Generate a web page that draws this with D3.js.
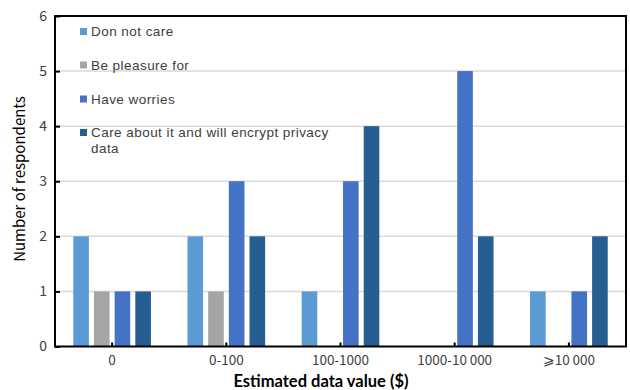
<!DOCTYPE html>
<html>
<head>
<meta charset="utf-8">
<script src="https://cdn.jsdelivr.net/npm/d3@7"></script>
<style>
  html, body { margin: 0; padding: 0; background: #fff; }
  svg { display: block; }
</style>
</head>
<body>
<svg id="chart" width="630" height="390"></svg>
<script>
// Respondent counts per estimated data value band
const categories = ["0", "0-100", "100-1000", "1000-10\u2009000", "\u2a7e10\u2009000"];
const seriesNames = ["Don not care", "Be pleasure for", "Have worries", "Care about it and will encrypt privacy data"];
const dontCare   = [2, 2, 1, 0, 1];
const pleasure   = [1, 1, 0, 0, 0];
const worries    = [1, 3, 3, 5, 1];
const encrypt    = [1, 2, 4, 2, 2];
const yTicks = [0, 1, 2, 3, 4, 5, 6];
const colors = ["#5b9bd5", "#a5a5a5", "#4472c4", "#255e91"];

const seriesValues = [dontCare, pleasure, worries, encrypt];

const svg = d3.select("#chart");
const plotLeft = 55, plotRight = 626, plotTop = 16, plotBottom = 346.5;

const x0 = d3.scaleBand().domain(categories).range([plotLeft, plotRight])
  .paddingInner(0.32).paddingOuter(0.16);
const x1 = d3.scaleBand().domain(d3.range(seriesNames.length))
  .range([0, x0.bandwidth()]).paddingInner(0.245).paddingOuter(0);
const y = d3.scaleLinear().domain([0, 6]).range([plotBottom, plotTop]);

const fontMain = "'Noto Sans CJK SC', 'Noto Sans', sans-serif";
const fontLegend = "'Liberation Sans', Arial, sans-serif";
const textColor = "#404040";

// horizontal gridlines
svg.append("g").selectAll("line")
  .data(yTicks.filter(t => t > 0 && t < 6))
  .join("line")
  .attr("x1", plotLeft).attr("x2", plotRight)
  .attr("y1", d => y(d)).attr("y2", d => y(d))
  .attr("stroke", "#d9d9d9").attr("stroke-width", 1.5);

// bars
const rows = [];
categories.forEach((c, i) => {
  seriesValues.forEach((vals, s) => {
    rows.push({ cat: c, s, v: vals[i] });
  });
});
svg.append("g").selectAll("rect")
  .data(rows.filter(d => d.v > 0))
  .join("rect")
  .attr("x", d => x0(d.cat) + x1(d.s))
  .attr("width", x1.bandwidth())
  .attr("y", d => y(d.v))
  .attr("height", d => y(0) - y(d.v))
  .attr("fill", d => colors[d.s]);

// y axis with inside ticks
const yAxis = svg.append("g")
  .attr("transform", `translate(${plotLeft},0)`)
  .call(d3.axisLeft(y).tickValues(yTicks).tickFormat(d3.format("d"))
    .tickSizeInner(-5).tickSizeOuter(0).tickPadding(8));
yAxis.select(".domain").remove();
yAxis.selectAll(".tick line").attr("stroke", "#000").attr("stroke-width", 2);
yAxis.selectAll("text")
  .attr("font-family", fontMain).attr("font-size", 14)
  .attr("fill", textColor);

// x axis with inside ticks at category centres
const xAxis = svg.append("g")
  .attr("transform", `translate(0,${plotBottom})`)
  .call(d3.axisBottom(x0).tickSizeInner(-4).tickSizeOuter(0).tickPadding(9));
xAxis.select(".domain").remove();
xAxis.selectAll(".tick line").attr("stroke", "#000").attr("stroke-width", 2);
xAxis.selectAll("text")
  .attr("font-family", fontMain).attr("font-size", 13.5)
  .attr("fill", textColor);

// plot frame
svg.append("rect")
  .attr("x", plotLeft).attr("y", plotTop)
  .attr("width", plotRight - plotLeft).attr("height", plotBottom - plotTop)
  .attr("fill", "none").attr("stroke", "#000").attr("stroke-width", 2);

// legend inside the plot area
const legendY = [31.5, 65, 99, 132.5];
const legend = svg.append("g");
seriesNames.forEach((name, i) => {
  legend.append("rect")
    .attr("x", 80).attr("y", legendY[i] - 3.5)
    .attr("width", 7).attr("height", 7)
    .attr("fill", colors[i]);
  const t = legend.append("text")
    .attr("x", 91).attr("y", legendY[i])
    .attr("dy", "0.35em")
    .attr("font-family", fontLegend).attr("font-size", 13.5)
    .attr("letter-spacing", 0.45)
    .attr("fill", textColor);
  if (i === 3) {
    t.append("tspan").attr("x", 91).text("Care about it and will encrypt privacy");
    t.append("tspan").attr("x", 91).attr("dy", 15.3).text("data");
  } else {
    t.text(name);
  }
});

// axis titles
svg.append("text")
  .attr("transform", `translate(20,179) rotate(-90)`)
  .attr("text-anchor", "middle").attr("dy", "0.35em")
  .attr("font-family", fontMain).attr("font-size", 15)
  .attr("fill", "#000")
  .text("Number of respondents");

svg.append("text")
  .attr("x", 321).attr("y", 381)
  .attr("text-anchor", "middle").attr("dy", "0.35em")
  .attr("font-family", "Lato, 'Open Sans', sans-serif")
  .attr("font-weight", "bold").attr("font-size", 16.5)
  .attr("fill", "#000")
  .text("Estimated data value ($)");
</script>
</body>
</html>
